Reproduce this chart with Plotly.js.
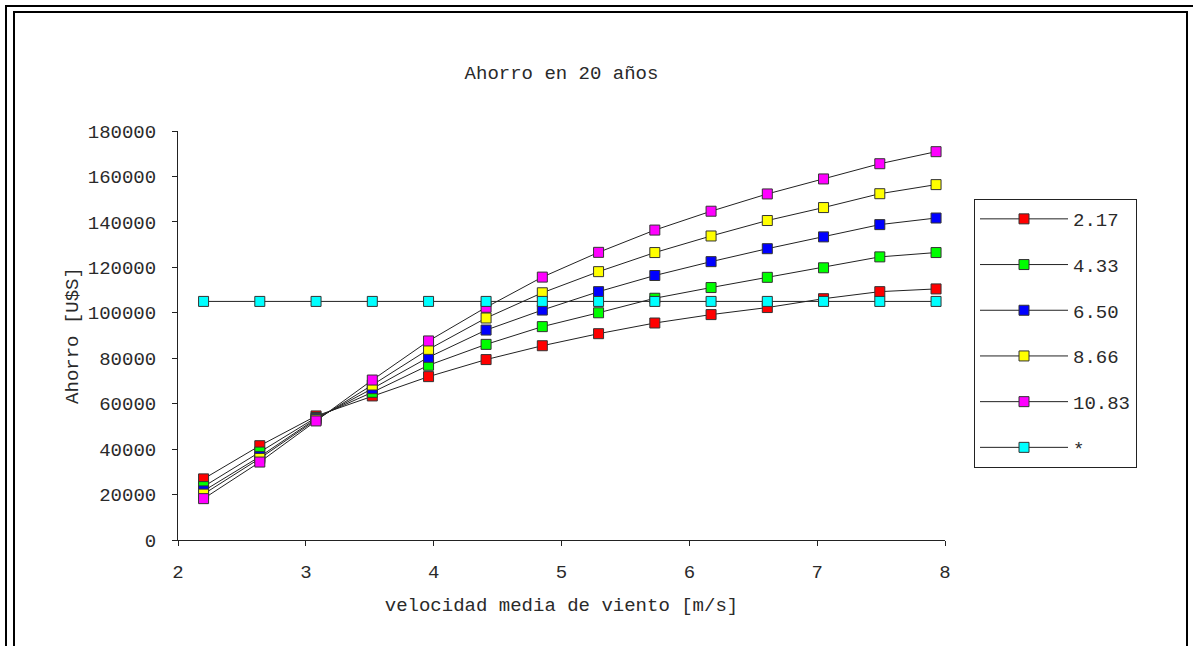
<!DOCTYPE html>
<html>
<head>
<meta charset="utf-8">
<script src="https://cdn.plot.ly/plotly-3.0.1.min.js"></script>
<style>
html,body{margin:0;padding:0;background:#fff;}
#chart{width:1193px;height:646px;}
</style>
</head>
<body>
<div id="chart"></div>
<script>
// wind speed [m/s]
var windSpeed = [2.2, 2.64, 3.08, 3.52, 3.96, 4.41, 4.85, 5.29, 5.73, 6.17, 6.61, 7.05, 7.49, 7.93];
var seriesNames = ["2.17", "4.33", "6.50", "8.66", "10.83", "*"];
var s217  = [26900, 41500, 54600, 63400, 71900, 79400, 85500, 90800, 95500, 99200, 102300, 106200, 109300, 110500];
var s433  = [23500, 38700, 53900, 65000, 76900, 86100, 93900, 100000, 106400, 111100, 115600, 119800, 124600, 126500];
var s650  = [21600, 36700, 53400, 66600, 80400, 92400, 101200, 109300, 116400, 122500, 128200, 133400, 138800, 141700];
var s866  = [20200, 35900, 52900, 68200, 83900, 97700, 108800, 118100, 126500, 133800, 140600, 146300, 152400, 156400];
var s1083 = [18200, 34300, 52400, 70400, 87600, 102400, 115700, 126600, 136400, 144700, 152300, 158900, 165600, 170900];
var sStar = [105000, 105000, 105000, 105000, 105000, 105000, 105000, 105000, 105000, 105000, 105000, 105000, 105000, 105000];
var seriesValues = [s217, s433, s650, s866, s1083, sStar];
var markerColors = ["#FF0000", "#00FF00", "#0000FF", "#FFFF00", "#FF00FF", "#00FFFF"];

var FONT = "Liberation Mono, Courier New, monospace";
var FS = 19;
var TXT = "#2a2a2a";

var traces = seriesValues.map(function (vals, i) {
  return {
    x: windSpeed,
    y: vals,
    name: seriesNames[i],
    legendgroup: "g" + i,
    type: "scatter",
    mode: "lines+markers",
    line: {color: "#222", width: 1},
    marker: {symbol: "square", size: 10, color: markerColors[i], line: {color: "#333", width: 1}}
  };
});

// plot area in px: x 178..945, y 131..540
var L = 178, R = 945, T = 131, B = 540, W = 1193, H = 646;
function px(x) { return (x - L) / (R - L); }
function py(y) { return (B - y) / (B - T); }

var layout = {
  width: W, height: H,
  margin: {l: L, r: W - R, t: T, b: H - B},
  paper_bgcolor: "#fff",
  plot_bgcolor: "#fff",
  font: {family: FONT, size: FS, color: TXT},
  title: {text: "Ahorro en 20 años", font: {family: FONT, size: FS, color: TXT},
          xref: "paper", x: 0.5, xanchor: "center", yref: "container", y: 1 - 72 / H, yanchor: "middle"},
  xaxis: {
    range: [2, 8], dtick: 1, tick0: 2,
    showgrid: false, zeroline: false,
    showline: true, linecolor: "#222", linewidth: 1,
    ticks: "outside", ticklen: 5, tickcolor: "#222", tickwidth: 1,
    ticklabelstandoff: 9,
    tickfont: {family: FONT, size: FS, color: TXT},
    title: {text: "velocidad media de viento [m/s]", font: {family: FONT, size: FS, color: TXT}, standoff: 14}
  },
  yaxis: {
    range: [0, 180000], dtick: 20000, tick0: 0, tickformat: "d",
    showgrid: false, zeroline: false,
    showline: true, linecolor: "#222", linewidth: 1,
    ticks: "outside", ticklen: 5, tickcolor: "#222", tickwidth: 1,
    ticklabelstandoff: 12,
    tickfont: {family: FONT, size: FS, color: TXT},
    title: {text: "Ahorro [U$S]", font: {family: FONT, size: FS, color: TXT}, standoff: 4}
  },
  xaxis2: {
    overlaying: "x", anchor: "y", side: "bottom", range: [2, 8], dtick: 1, tick0: 2,
    showgrid: false, zeroline: false, showline: false, showticklabels: false,
    ticks: "inside", ticklen: 5, tickcolor: "#222", tickwidth: 1
  },
  yaxis2: {
    overlaying: "y", anchor: "x", side: "left", range: [0, 180000], dtick: 20000, tick0: 0,
    showgrid: false, zeroline: false, showline: false, showticklabels: false,
    ticks: "inside", ticklen: 5, tickcolor: "#222", tickwidth: 1
  },
  showlegend: true,
  legend: {
    x: px(974), y: py(199), xanchor: "left", yanchor: "top",
    xref: "paper", yref: "paper",
    bordercolor: "#222", borderwidth: 1, bgcolor: "#fff",
    font: {family: FONT, size: FS, color: TXT},
    tracegroupgap: 18, itemwidth: 88, traceorder: "grouped",
    entrywidth: 185, entrywidthmode: "pixels"
  },
  shapes: [
    {type: "rect", xref: "paper", yref: "paper", x0: px(6), x1: px(1210), y0: py(6), y1: py(680),
     line: {color: "#000", width: 2}, fillcolor: "rgba(0,0,0,0)", layer: "above"},
    {type: "rect", xref: "paper", yref: "paper", x0: px(14), x1: px(1187), y0: py(12), y1: py(680),
     line: {color: "#000", width: 2}, fillcolor: "rgba(0,0,0,0)", layer: "above"}
  ]
};

Plotly.newPlot("chart", traces, layout, {displayModeBar: false, staticPlot: true});
</script>
</body>
</html>
